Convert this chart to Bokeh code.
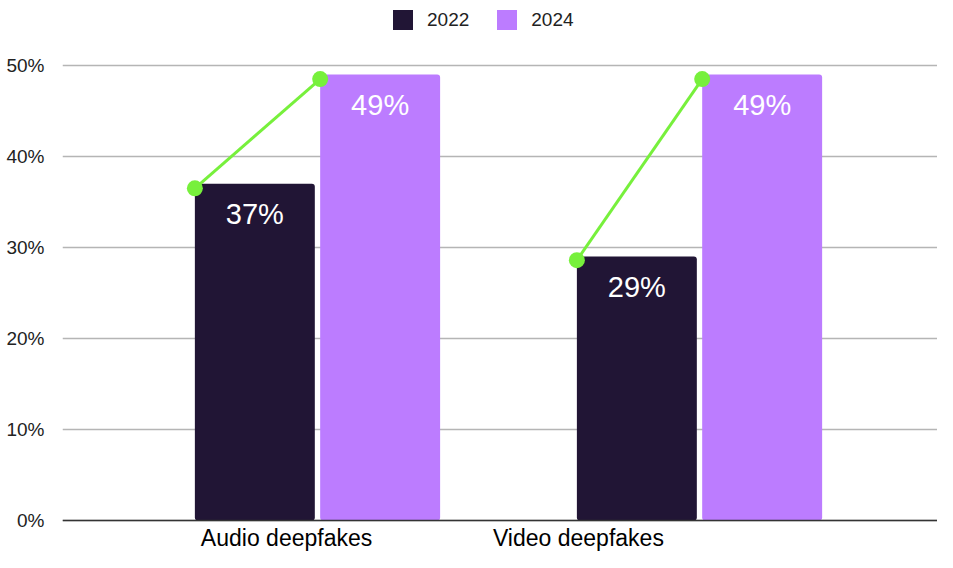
import numpy as np
from bokeh.plotting import figure
from bokeh.models import (Range1d, FixedTicker, NumeralTickFormatter, Legend,
                          LegendItem, ColumnDataSource, Span)
from bokeh.core.properties import value
from bokeh.embed import file_html
from bokeh.resources import INLINE

# ---- data ----
categories = ["Audio deepfakes", "Video deepfakes"]
series = ["2022", "2024"]
values_2022 = [0.37, 0.29]
values_2024 = [0.49, 0.49]
trend_2022 = [0.365, 0.286]
trend_2024 = [0.485, 0.485]
y_ticks = [0, 0.1, 0.2, 0.3, 0.4, 0.5]

# ---- style ----
DARK = "#211535"
PURPLE = "#bc7cff"
GREEN = "#77f03c"
BAR_W = 0.314
OFFSET = 0.164
LABEL_SHIFT = np.array([-0.081, -0.317])
FONT = "Liberation Sans"

idx = np.arange(len(categories))
x22 = idx - OFFSET
x24 = idx + OFFSET

src = ColumnDataSource(dict(
    x22=x22, x24=x24, v22=values_2022, v24=values_2024,
    l22=[f"{round(v * 100)}%" for v in values_2022],
    l24=[f"{round(v * 100)}%" for v in values_2024],
    tx22=x22 - BAR_W / 2, tx24=x24 - BAR_W / 2,
    t22=trend_2022, t24=trend_2024,
))

p = figure(width=937, height=552, output_backend="svg", toolbar_location=None,
           x_range=Range1d(-0.6675, 1.623), y_range=Range1d(-0.0352, 0.5714),
           x_axis_location=None,
           min_border_left=62, min_border_right=0, min_border_top=0,
           min_border_bottom=0, outline_line_color=None)

p.yaxis.ticker = FixedTicker(ticks=y_ticks)
p.yaxis.formatter = NumeralTickFormatter(format="0%")
p.yaxis.axis_line_color = None
p.yaxis.major_tick_line_color = None
p.yaxis.minor_tick_line_color = None
p.yaxis.major_label_standoff = 12
p.yaxis.major_label_text_font_size = "19px"
p.yaxis.major_label_text_font = FONT
p.yaxis.major_label_text_color = "#222222"

p.xgrid.visible = False
p.ygrid.ticker = FixedTicker(ticks=y_ticks)
p.ygrid.grid_line_color = "#b5b5b5"
p.ygrid.grid_line_width = 1.3

p.add_layout(Span(location=0, dimension="width", line_color="#333333", line_width=1.5))

r22 = p.vbar(x="x22", top="v22", bottom=0, width=BAR_W, fill_color=DARK,
             line_color=None, border_radius=3, source=src)
r24 = p.vbar(x="x24", top="v24", bottom=0, width=BAR_W, fill_color=PURPLE,
             line_color=None, border_radius=3, source=src)

for xc, yc, lc in (("x22", "v22", "l22"), ("x24", "v24", "l24")):
    p.text(x=xc, y=yc, text=lc, source=src, text_color="white",
           text_font_size="29px", text_font=value(FONT), text_align="center",
           text_baseline="middle", y_offset=30)

p.segment(x0="tx22", y0="t22", x1="tx24", y1="t24", line_color=GREEN,
          line_width=3, source=src)
p.scatter(x="tx22", y="t22", size=16, fill_color=GREEN, line_color=None, source=src)
p.scatter(x="tx24", y="t24", size=16, fill_color=GREEN, line_color=None, source=src)

p.text(x=idx + LABEL_SHIFT, y=np.zeros(len(categories)), text=categories,
       text_color="#000000", text_font_size="23px", text_font=value(FONT),
       text_align="center", text_baseline="middle", y_offset=18)

legend = Legend(items=[LegendItem(label=series[0], renderers=[r22]),
                       LegendItem(label=series[1], renderers=[r24])],
                orientation="horizontal", location=(328, 520),
                glyph_width=25, glyph_height=25, label_standoff=12, spacing=25,
                padding=2, margin=0, border_line_color=None,
                background_fill_alpha=0, label_text_font_size="19px",
                label_text_color="#222222", label_text_font=FONT)
p.add_layout(legend)

open("out.html", "w").write(file_html(p, INLINE))
